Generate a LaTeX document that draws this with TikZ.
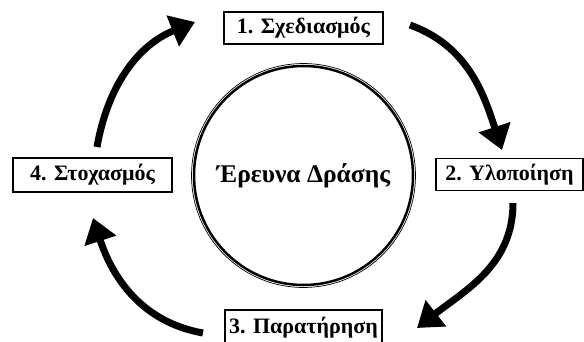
\documentclass[tikz,border=0pt]{standalone}
\usepackage{fontspec}
\setmainfont{Liberation Serif}
\usetikzlibrary{arrows.meta}
\begin{document}
\begin{tikzpicture}[x=1pt,y=1pt,
  stage/.style={draw, line width=1.8pt, inner sep=0pt, minimum height=32pt,
    font=\bfseries\fontsize{22}{25}\selectfont},
  cyc/.style={line width=7pt, -{Triangle[length=24pt,width=32pt]}},
  hub/.style={circle, draw, line width=2.5pt, minimum size=219pt, inner sep=0pt,
    font=\bfseries\fontsize{25.5}{28}\selectfont}]
\useasboundingbox (0,0) rectangle (584,341);
% centre circle
\node[hub] (c) at (303.5,165.5) {Έρευνα Δράσης};
\draw[line width=0.7pt] (c.center) circle (112);
% stages
\node[stage, minimum width=159pt] (s1) at (303.5,313) {1. Σχεδιασμός};
\node[stage, minimum width=147pt] (s2) at (509.5,166.5) {2. Υλοποίηση};
\node[stage, minimum width=157pt, minimum height=36pt] (s3) at (303.5,13) {3. Παρατήρηση};
\node[stage, minimum width=159pt, minimum height=34pt] (s4) at (92.5,166) {4. Στοχασμός};
% arrow end points
\coordinate (a1s) at (410,316);
\coordinate (a1e) at (502,191);
\coordinate (a2s) at (513,138);
\coordinate (a2e) at (417,13);
\coordinate (a3s) at (203,8);
\coordinate (a3e) at (93,123);
\coordinate (a4s) at (97,194);
\coordinate (a4e) at (195,319);
% cycle arrows
\draw[cyc] (a1s) to[out=-20,in=108] (a1e);
\draw[cyc] (a2s) to[out=-90,in=38] (a2e);
\draw[cyc] (a3s) to[out=170,in=-72] (a3e);
\draw[cyc] (a4s) to[out=80,in=-158] (a4e);
\end{tikzpicture}
\end{document}
